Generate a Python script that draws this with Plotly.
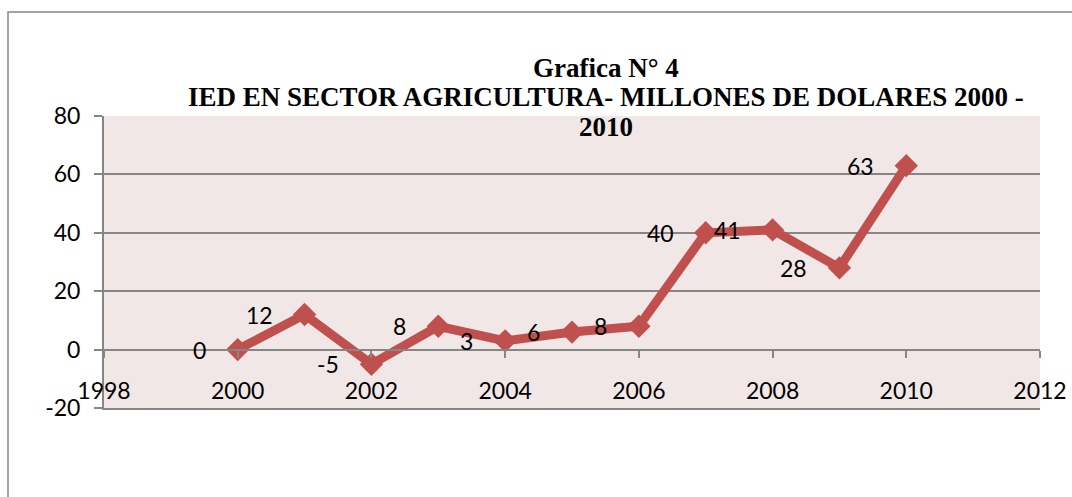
import plotly.graph_objects as go

years = [2000, 2001, 2002, 2003, 2004, 2005, 2006, 2007, 2008, 2009, 2010]
ied = [0, 12, -5, 8, 3, 6, 8, 40, 41, 28, 63]
labels = [str(v) for v in ied]

y_ticks = [-20, 0, 20, 40, 60, 80]
y_tick_labels = ["-20", "0", "20", "40", "60", "80"]
x_ticks = [1998, 2000, 2002, 2004, 2006, 2008, 2010, 2012]

title_lines = ["Grafica N° 4",
               "IED EN SECTOR AGRICULTURA- MILLONES DE DOLARES 2000 -",
               "2010"]
title_y_px = [68, 97, 127]

W, H = 1072, 497
L, R, T, B = 104, 1040, 116, 408
red = "#C0504D"
gray = "#868686"
tick_font = dict(family="Lato", size=23, color="black")

fig = go.Figure()
fig.add_trace(go.Scatter(
    x=years, y=ied, mode="lines+markers",
    line=dict(color=red, width=9),
    marker=dict(symbol="diamond", size=18, color=red),
    cliponaxis=False, showlegend=False,
))

# data labels, to the left of each point
for xv, yv, lab in zip(years, ied, labels):
    fig.add_annotation(x=xv, y=yv, text=lab, showarrow=False,
                       xanchor="right", yanchor="middle", xshift=-30,
                       font=tick_font)

fig.update_layout(
    width=W, height=H,
    margin=dict(l=L, r=W - R, t=T, b=H - B, pad=0),
    paper_bgcolor="white",
    plot_bgcolor="#F2E7E7",
    xaxis=dict(range=[1998, 2012], tickvals=x_ticks,
               anchor="free", position=0.2,
               showline=True, linecolor=gray, linewidth=2,
               ticks="outside", ticklen=7, tickcolor=gray, tickwidth=2,
               showgrid=False, zeroline=False, automargin=False,
               tickfont=tick_font, ticklabelstandoff=14),
    xaxis2=dict(range=[1998, 2012], overlaying="x", anchor="y", side="bottom",
                showline=True, linecolor=gray, linewidth=2,
                showticklabels=False, ticks="", showgrid=False, zeroline=False),
    yaxis=dict(range=[-20, 80], tickvals=y_ticks, ticktext=y_tick_labels,
               showline=True, linecolor=gray, linewidth=2,
               ticks="outside", ticklen=8, tickcolor=gray, tickwidth=2,
               showgrid=True, gridcolor=gray, gridwidth=1.5,
               zeroline=False, automargin=False,
               tickfont=tick_font, ticklabelstandoff=9),
)

# invisible trace to activate the bottom border axis
fig.add_trace(go.Scatter(x=[1998], y=[-20], xaxis="x2", mode="markers",
                         marker=dict(opacity=0), hoverinfo="skip",
                         showlegend=False))

# title lines
for txt, ypx in zip(title_lines, title_y_px):
    fig.add_annotation(text=f"<b>{txt}</b>", xref="paper", yref="paper",
                       x=(606 - L) / (R - L), y=(B - ypx) / (B - T),
                       xanchor="center", yanchor="middle", showarrow=False,
                       font=dict(family="Liberation Serif", size=27, color="black"))

# outer chart-area border (extends beyond the captured frame)
fig.add_shape(type="rect", xref="paper", yref="paper",
              x0=(8 - L) / (R - L), x1=(1100 - L) / (R - L),
              y0=(B - 520) / (B - T), y1=(B - 12) / (B - T),
              line=dict(color=gray, width=1.5), fillcolor="rgba(0,0,0,0)",
              layer="below")

fig.write_html("out.html", config={"displayModeBar": False},
               post_script="document.body.style.margin='0';document.body.style.overflow='hidden';")
